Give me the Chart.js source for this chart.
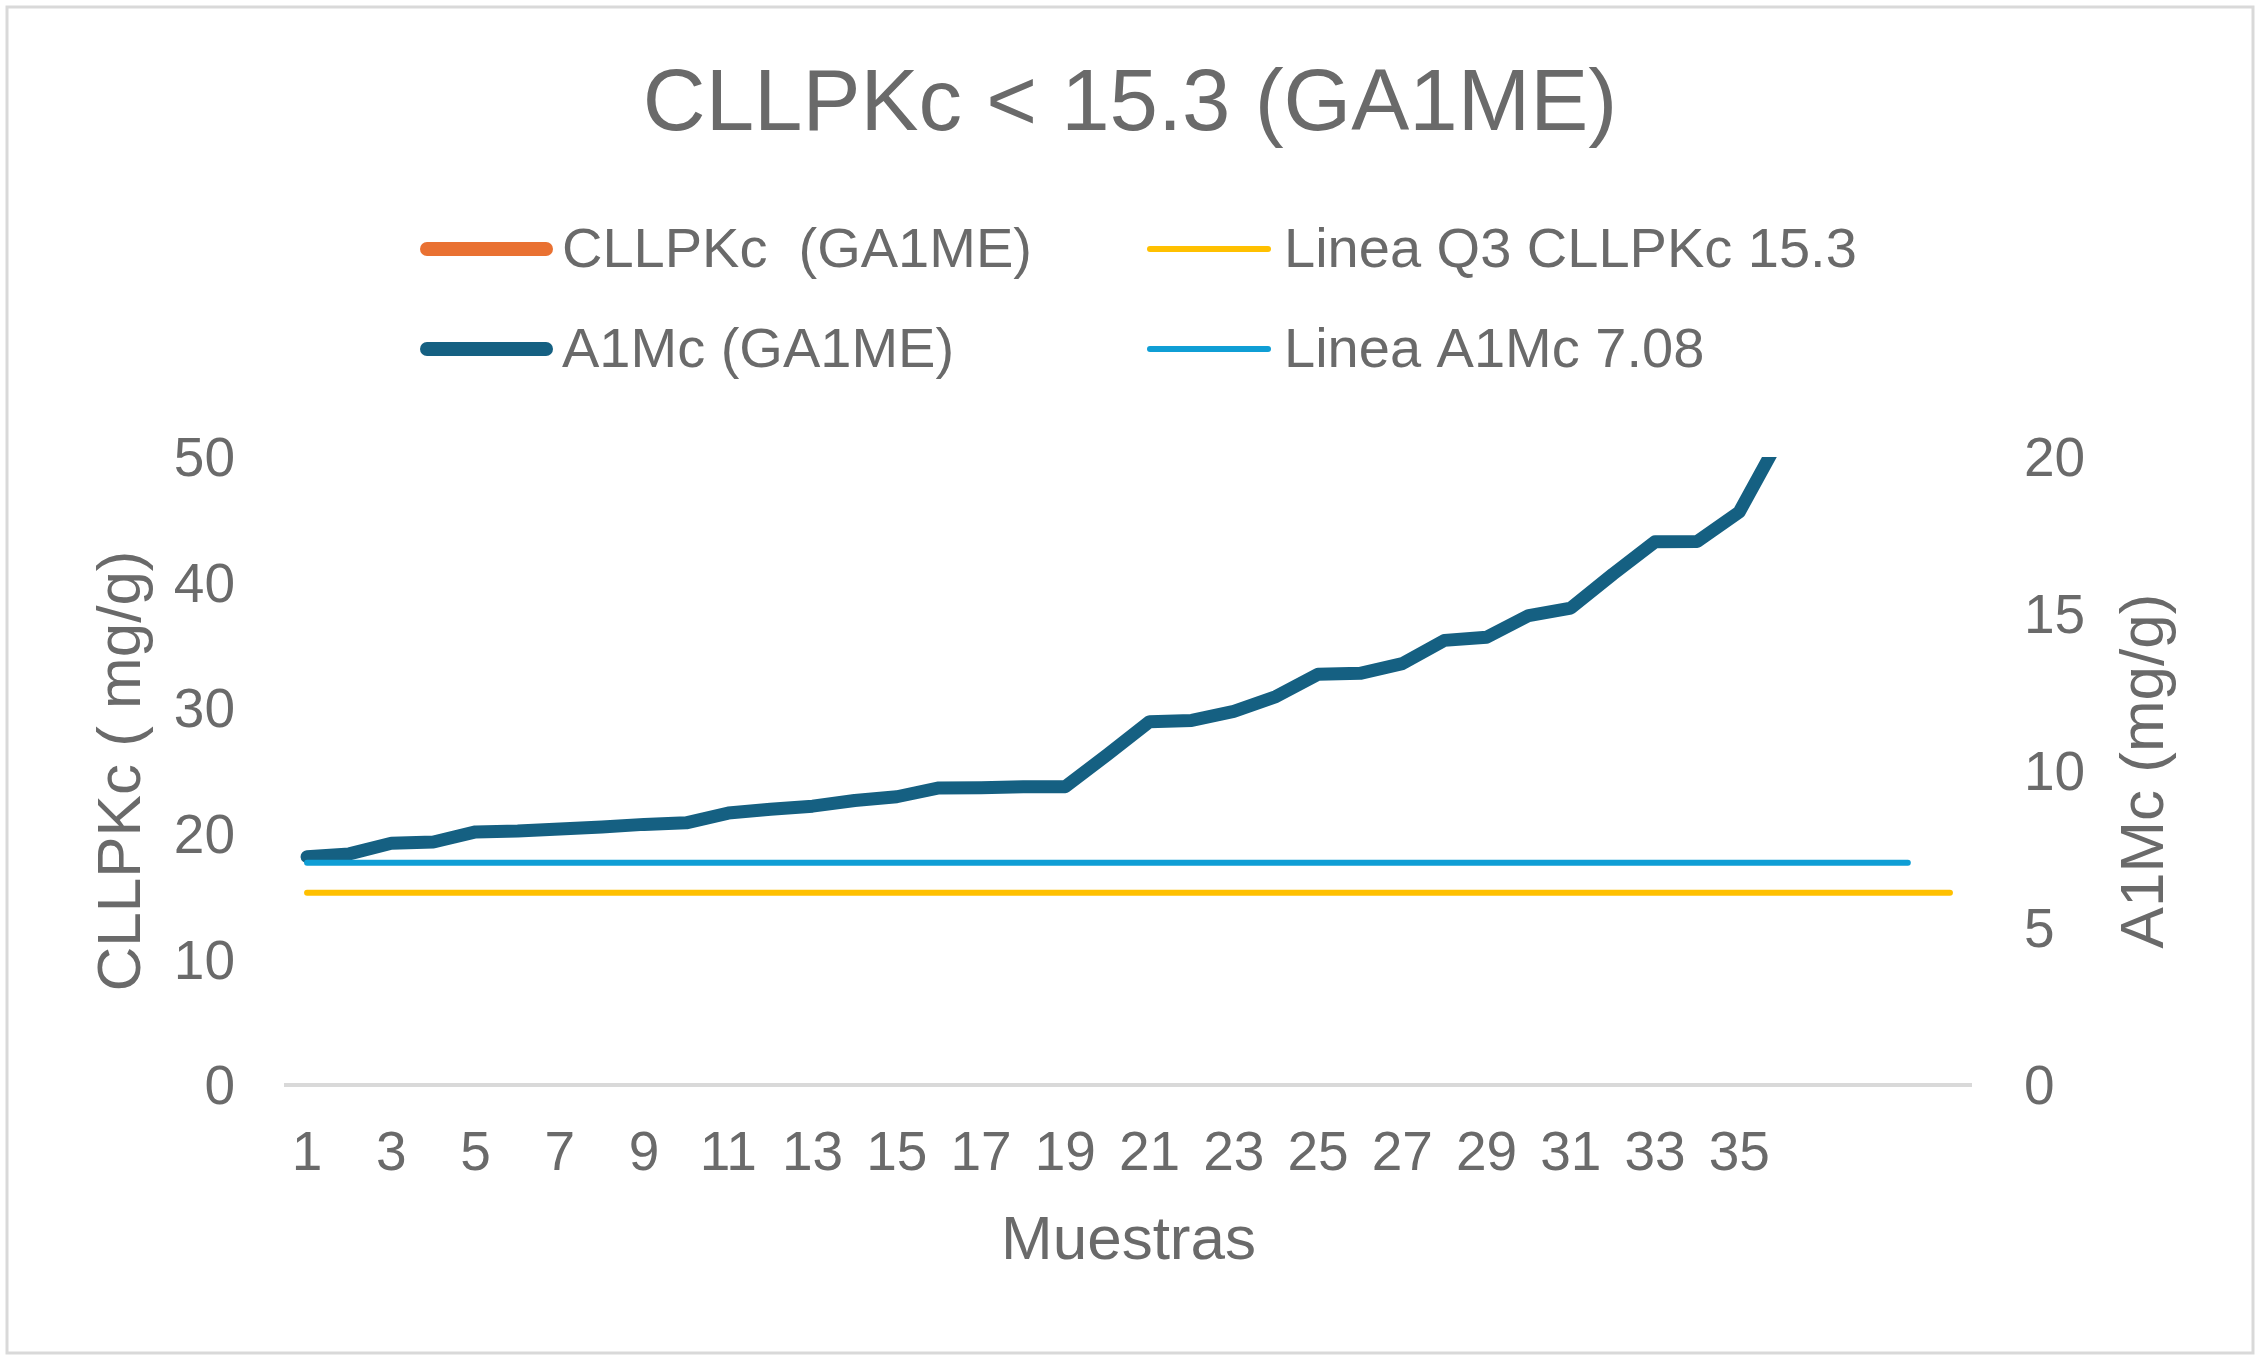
<!DOCTYPE html>
<html>
<head>
<meta charset="utf-8">
<script src="https://cdn.jsdelivr.net/npm/chart.js@4.4.1/dist/chart.umd.min.js"></script>
<style>
html, body { margin: 0; padding: 0; background: #fff; }
#wrap { width: 2260px; height: 1360px; position: relative; }
</style>
</head>
<body>
<div id="wrap"><canvas id="grafico"></canvas></div>
<script>
// categorias del eje X (las 4 ultimas quedan sin etiqueta)
var muestras = ["1", "2", "3", "4", "5", "6", "7", "8", "9", "10",
    "11", "12", "13", "14", "15", "16", "17", "18", "19", "20",
    "21", "22", "23", "24", "25", "26", "27", "28", "29", "30",
    "31", "32", "33", "34", "35", "36", "", "", "", ""];

// CLLPKc (GA1ME): no se ve ningun punto en el grafico
var cllpkc = [];

// A1Mc (GA1ME), eje derecho
var a1mc = [7.27, 7.36, 7.70, 7.74, 8.06, 8.09, 8.15, 8.22, 8.30, 8.35,
    8.66, 8.78, 8.88, 9.06, 9.18, 9.46, 9.47, 9.50, 9.50, 10.52,
    11.57, 11.61, 11.90, 12.37, 13.08, 13.11, 13.42, 14.16, 14.26, 14.95,
    15.19, 16.27, 17.30, 17.31, 18.25, 20.7];

var lineaQ3 = [15.3, 15.3, 15.3, 15.3, 15.3, 15.3, 15.3, 15.3, 15.3, 15.3,
    15.3, 15.3, 15.3, 15.3, 15.3, 15.3, 15.3, 15.3, 15.3, 15.3,
    15.3, 15.3, 15.3, 15.3, 15.3, 15.3, 15.3, 15.3, 15.3, 15.3,
    15.3, 15.3, 15.3, 15.3, 15.3, 15.3, 15.3, 15.3, 15.3, 15.3];

var lineaA1mc = [7.08, 7.08, 7.08, 7.08, 7.08, 7.08, 7.08, 7.08, 7.08, 7.08,
    7.08, 7.08, 7.08, 7.08, 7.08, 7.08, 7.08, 7.08, 7.08, 7.08,
    7.08, 7.08, 7.08, 7.08, 7.08, 7.08, 7.08, 7.08, 7.08, 7.08,
    7.08, 7.08, 7.08, 7.08, 7.08, 7.08, 7.08, 7.08, 7.08];

var gris = "#6a6a6a";
var fuente = "'Liberation Sans', Arial, sans-serif";

// fondo blanco y marco gris
var marco = {
    id: "marco",
    beforeDraw: function (chart) {
        var ctx = chart.ctx;
        ctx.save();
        ctx.fillStyle = "#ffffff";
        ctx.fillRect(0, 0, chart.width, chart.height);
        ctx.strokeStyle = "#d9d9d9";
        ctx.lineWidth = 3;
        ctx.strokeRect(7, 7, chart.width - 14, chart.height - 14);
        ctx.restore();
    }
};

// leyenda en dos columnas + titulo del eje derecho (leido de abajo arriba)
var leyenda = {
    id: "leyenda",
    afterDraw: function (chart) {
        var ctx = chart.ctx;
        var sitios = [
            { x: 420, w: 133, y: 249, t: 562, g: 14 },
            { x: 1147, w: 124, y: 249, t: 1284, g: 6 },
            { x: 420, w: 133, y: 349, t: 562, g: 14 },
            { x: 1147, w: 124, y: 349, t: 1284, g: 6 }
        ];
        ctx.save();
        chart.data.datasets.forEach(function (ds, i) {
            var s = sitios[i];
            ctx.lineWidth = s.g;
            ctx.lineCap = "round";
            ctx.strokeStyle = ds.borderColor;
            ctx.beginPath();
            ctx.moveTo(s.x + s.g / 2, s.y);
            ctx.lineTo(s.x + s.w - s.g / 2, s.y);
            ctx.stroke();
            ctx.fillStyle = gris;
            ctx.font = "56px " + fuente;
            ctx.textAlign = "left";
            ctx.textBaseline = "middle";
            ctx.fillText(ds.label, s.t, s.y + 3);
        });
        var ca = chart.chartArea;
        ctx.translate(2146, (ca.top + ca.bottom) / 2);
        ctx.rotate(-Math.PI / 2);
        ctx.textAlign = "center";
        ctx.textBaseline = "middle";
        ctx.font = "62px " + fuente;
        ctx.fillStyle = gris;
        ctx.fillText("A1Mc (mg/g)", 0, 0);
        ctx.restore();
    }
};

Chart.defaults.font.family = fuente;
Chart.defaults.color = gris;

var ctx = document.getElementById("grafico").getContext("2d");
var chart = new Chart(ctx, {
    type: "line",
    data: {
        labels: muestras,
        datasets: [{
            label: "CLLPKc  (GA1ME)",
            data: cllpkc,
            borderColor: "#e97132",
            borderWidth: 14,
            yAxisID: "y",
            order: 3
        }, {
            label: "Linea Q3 CLLPKc 15.3",
            data: lineaQ3,
            borderColor: "#ffc000",
            borderWidth: 6,
            yAxisID: "y",
            order: 2
        }, {
            label: "A1Mc (GA1ME)",
            data: a1mc,
            borderColor: "#156082",
            borderWidth: 13,
            yAxisID: "y1",
            order: 1
        }, {
            label: "Linea A1Mc 7.08",
            data: lineaA1mc,
            borderColor: "#0f9ed5",
            borderWidth: 6,
            yAxisID: "y1",
            order: 0
        }]
    },
    options: {
        responsive: true,
        maintainAspectRatio: false,
        animation: false,
        layout: { padding: 0 },
        elements: {
            point: { radius: 0, hoverRadius: 0 },
            line: { tension: 0, borderCapStyle: "round", borderJoinStyle: "round", fill: false }
        },
        datasets: { line: { clip: 0 } },
        plugins: {
            legend: { display: false },
            tooltip: { enabled: false },
            title: {
                display: true,
                text: "CLLPKc < 15.3 (GA1ME)",
                color: gris,
                font: { size: 87, weight: "normal" },
                padding: { top: 54, bottom: 298.6 }
            }
        },
        scales: {
            x: {
                type: "category",
                offset: true,
                grid: { display: false, drawTicks: false },
                border: { display: true, color: "#d9d9d9", width: 4 },
                ticks: {
                    autoSkip: false,
                    maxRotation: 0,
                    padding: 37,
                    font: { size: 55 },
                    color: gris,
                    callback: function (value, index) {
                        return index % 2 === 0 ? this.getLabelForValue(value) : "";
                    }
                },
                title: {
                    display: true,
                    text: "Muestras",
                    color: gris,
                    font: { size: 62 },
                    padding: { top: 0, bottom: 81 }
                },
                afterFit: function (scale) { scale.height = 275; }
            },
            y: {
                position: "left",
                min: 0,
                max: 50,
                grid: { display: false, drawTicks: false },
                border: { display: false },
                ticks: { stepSize: 10, padding: 51, labelOffset: 4, font: { size: 55 }, color: gris },
                title: {
                    display: true,
                    text: "CLLPKc ( mg/g)",
                    color: gris,
                    font: { size: 62 },
                    padding: { top: 86, bottom: 0 }
                },
                afterFit: function (scale) { scale.width = 286; }
            },
            y1: {
                position: "right",
                min: 0,
                max: 20,
                grid: { display: false, drawTicks: false },
                border: { display: false },
                ticks: { stepSize: 5, padding: 53, labelOffset: 4, font: { size: 55 }, color: gris },
                afterFit: function (scale) { scale.width = 289; }
            }
        }
    },
    plugins: [marco, leyenda]
});
</script>
</body>
</html>
